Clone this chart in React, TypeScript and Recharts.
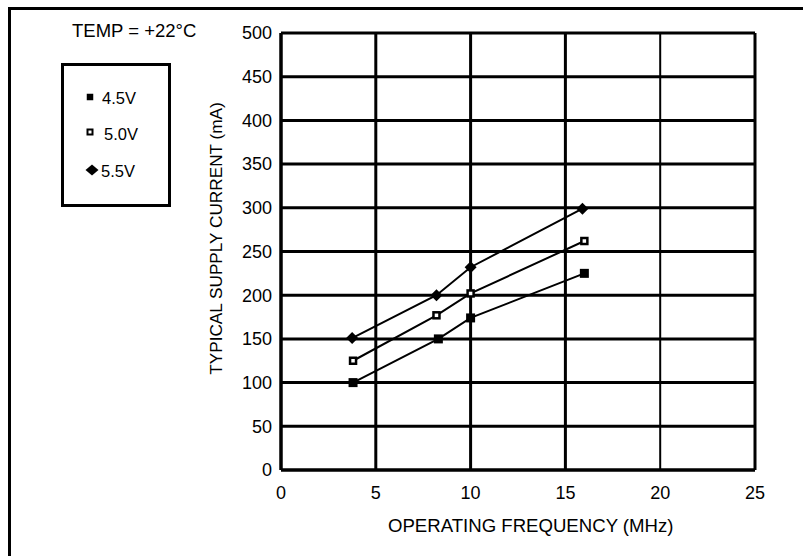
import React from 'react';
import { LineChart, Line, XAxis, YAxis, CartesianGrid, Legend, Label } from 'recharts';

const FONT = '"Liberation Sans", Arial, Helvetica, sans-serif';

// ---- data ----
const seriesNames = ['4.5V', '5.0V', '5.5V'];
const freq45 = [3.8, 8.3, 10, 16];
const current45 = [100, 150, 174, 225];
const freq50 = [3.8, 8.2, 10, 16];
const current50 = [125, 177, 202, 262];
const freq55 = [3.75, 8.2, 10, 15.9];
const current55 = [151, 200, 232, 299];
const xTicks = [0, 5, 10, 15, 20, 25];
const yTicks = [0, 50, 100, 150, 200, 250, 300, 350, 400, 450, 500];
const tempLabel = 'TEMP = +22°C';
const xTitle = 'OPERATING FREQUENCY (MHz)';
const yTitle = 'TYPICAL SUPPLY CURRENT (mA)';

const toPoints = (xs: number[], ys: number[]) => xs.map((x, i) => ({ x, y: ys[i] }));

const seriesData = [
  toPoints(freq45, current45),
  toPoints(freq50, current50),
  toPoints(freq55, current55),
];
const markerKinds = ['filled', 'open', 'diamond'];

function Marker({ kind, cx, cy, size }: { kind: string; cx: number; cy: number; size: number }) {
  if (kind === 'filled') {
    return <rect x={cx - size / 2} y={cy - size / 2} width={size} height={size} fill="#000" />;
  }
  if (kind === 'open') {
    const s = size - 2.5;
    return (
      <rect x={cx - s / 2} y={cy - s / 2} width={s} height={s} fill="#fff" stroke="#000" strokeWidth={2.5} />
    );
  }
  const h = size / 2;
  return (
    <polygon points={`${cx},${cy - h} ${cx + h},${cy} ${cx},${cy + h} ${cx - h},${cy}`} fill="#000" />
  );
}

const plotMarkerSize: Record<string, number> = { filled: 9, open: 8.5, diamond: 12 };

// legend layout (inside legend box)
const legendRowY = [34, 69, 107];
const legendMarkerX = [29, 29, 31];
const legendTextX = [41, 43, 40];
const legendTextBase = [40.5, 77, 113.5];

function renderLegend(props: any) {
  const payload = props.payload || [];
  return (
    <div style={{ position: 'relative', width: 0, height: 0 }}>
      <div
        style={{
          position: 'absolute',
          left: 72,
          top: 22,
          fontSize: 18.5,
          lineHeight: '18px',
          whiteSpace: 'nowrap',
          color: '#000',
          fontFamily: FONT,
        }}
      >
        {tempLabel}
      </div>
      <svg style={{ position: 'absolute', left: 61, top: 63, overflow: 'visible' }} width={110} height={144}>
        <rect x={1.5} y={1.5} width={107} height={141} fill="#fff" stroke="#000" strokeWidth={3} />
        {payload.map((entry: any, i: number) => {
          const idx = Math.max(0, seriesNames.indexOf(entry.value));
          const kind = markerKinds[idx];
          return (
            <g key={`leg-${i}`}>
              {kind === 'diamond' ? (
                <polygon
                  points={`${legendMarkerX[idx]},${legendRowY[idx] - 5.5} ${legendMarkerX[idx] + 6.5},${legendRowY[idx]} ${legendMarkerX[idx]},${legendRowY[idx] + 5.5} ${legendMarkerX[idx] - 6.5},${legendRowY[idx]}`}
                  fill="#000"
                />
              ) : kind === 'open' ? (
                <rect
                  x={legendMarkerX[idx] - 2.5}
                  y={legendRowY[idx] - 2.5}
                  width={5}
                  height={5}
                  fill="#fff"
                  stroke="#000"
                  strokeWidth={2}
                />
              ) : (
                <Marker kind={kind} cx={legendMarkerX[idx]} cy={legendRowY[idx]} size={6.5} />
              )}
              <text
                x={legendTextX[idx]}
                y={legendTextBase[idx]}
                fontSize={16.5}
                fontFamily={FONT}
                fill="#000"
              >
                {entry.value}
              </text>
            </g>
          );
        })}
      </svg>
    </div>
  );
}

const XTitle = (props: any) => {
  const vb = props.viewBox || { x: 281, y: 470 };
  return (
    <text x={vb.x + 107} y={vb.y + 62} fontSize={18.6} fontFamily={FONT} fill="#000" textAnchor="start">
      {xTitle}
    </text>
  );
};

const YTitle = (props: any) => {
  const vb = props.viewBox || { x: 221, y: 33 };
  const x = vb.x + 1;
  const y = vb.y + 205.5;
  return (
    <text
      x={x}
      y={y}
      fontSize={17.2}
      fontFamily={FONT}
      fill="#000"
      textAnchor="middle"
      transform={`rotate(-90, ${x}, ${y})`}
    >
      {yTitle}
    </text>
  );
};

export default function App() {
  return (
    <div
      style={{
        position: 'fixed',
        left: 0,
        top: 0,
        width: 803,
        height: 556,
        overflow: 'hidden',
        background: '#fff',
        fontFamily: FONT,
      }}
    >
      <div
        style={{
          position: 'absolute',
          left: 8,
          top: 7,
          width: 820,
          height: 600,
          borderTop: '3.5px solid #000',
          borderLeft: '3.5px solid #000',
        }}
      />
      <LineChart
        width={803}
        height={556}
        margin={{ top: 33, right: 48, bottom: 56, left: 221 }}
        style={{ position: 'absolute', left: 0, top: 0 }}
      >
        <CartesianGrid
          stroke="#000"
          strokeWidth={3}
          vertical={(p: any) => (
            <line
              key={p.key ?? `v-${p.index}`}
              x1={p.x1}
              y1={p.y1}
              x2={p.x2}
              y2={p.y2}
              stroke="#000"
              strokeWidth={p.index === 4 ? 2 : 3}
            />
          )}
        />
        <XAxis
          type="number"
          dataKey="x"
          domain={[0, 25]}
          ticks={xTicks}
          allowDataOverflow
          height={30}
          tickLine={false}
          tickSize={6}
          tickMargin={10}
          axisLine={{ stroke: '#000', strokeWidth: 3 }}
          tick={{ fill: '#000', fontSize: 18, fontFamily: FONT }}
        >
          <Label content={XTitle} />
        </XAxis>
        <YAxis
          type="number"
          dataKey="y"
          domain={[0, 500]}
          ticks={yTicks}
          allowDataOverflow
          width={60}
          tickLine={false}
          tickSize={6}
          tickMargin={3}
          axisLine={{ stroke: '#000', strokeWidth: 3 }}
          tick={{ fill: '#000', fontSize: 18, fontFamily: FONT }}
        >
          <Label content={YTitle} />
        </YAxis>
        <Legend
          layout="vertical"
          align="center"
          verticalAlign="middle"
          content={renderLegend}
          wrapperStyle={{ left: 0, top: 0, width: 0, height: 0 }}
        />
        {seriesData.map((d, i) => (
          <Line
            key={seriesNames[i]}
            name={seriesNames[i]}
            data={d}
            dataKey="y"
            type="linear"
            stroke="#000"
            strokeWidth={2}
            isAnimationActive={false}
            activeDot={false}
            dot={(p: any) => (
              <g key={`${seriesNames[i]}-${p.index}`}>
                <Marker
                  kind={markerKinds[i]}
                  cx={p.cx}
                  cy={p.cy}
                  size={plotMarkerSize[markerKinds[i]]}
                />
              </g>
            )}
          />
        ))}
      </LineChart>
    </div>
  );
}
